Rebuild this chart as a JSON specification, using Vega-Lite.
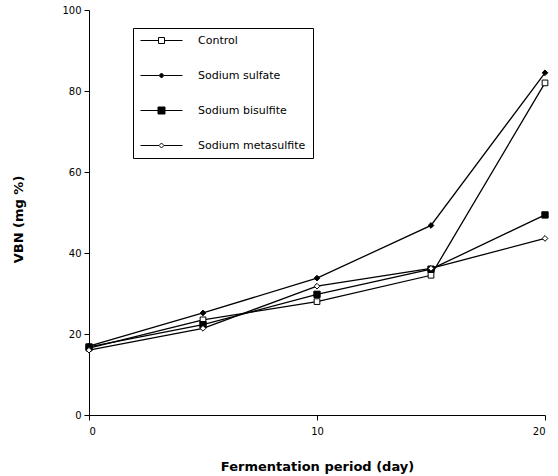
{
  "$schema": "https://vega.github.io/schema/vega-lite/v6.json",
  "width": 456,
  "height": 405,
  "autosize": "none",
  "padding": {"left": 89, "top": 10, "right": 13, "bottom": 61},
  "background": "white",
  "config": {
    "view": {"stroke": null},
    "font": "DejaVu Sans",
    "axis": {
      "grid": false,
      "domainColor": "black",
      "tickColor": "black",
      "labelColor": "black",
      "titleColor": "black",
      "labelFont": "DejaVu Sans",
      "titleFont": "DejaVu Sans",
      "labelFontSize": 10,
      "titleFontSize": 13,
      "titleFontWeight": "bold",
      "tickSize": 5,
      "domainWidth": 1,
      "tickWidth": 1
    },
    "legend": {
      "padding": 7,
      "strokeColor": "black",
      "fillColor": "white",
      "symbolSize": 100,
      "symbolStrokeWidth": 1,
      "symbolOpacity": 1,
      "labelOffset": 47,
      "rowPadding": 23,
      "labelFont": "DejaVu Sans",
      "labelFontSize": 11,
      "labelColor": "black",
      "labelLimit": 200
    }
  },
  "data": {
    "values": [
      {"series": "Control", "day": 0, "vbn": 16.5},
      {"series": "Control", "day": 5, "vbn": 23.5},
      {"series": "Control", "day": 10, "vbn": 28},
      {"series": "Control", "day": 15, "vbn": 34.5},
      {"series": "Control", "day": 20, "vbn": 82},
      {"series": "Sodium sulfate", "day": 0, "vbn": 17},
      {"series": "Sodium sulfate", "day": 5, "vbn": 25.2},
      {"series": "Sodium sulfate", "day": 10, "vbn": 33.8},
      {"series": "Sodium sulfate", "day": 15, "vbn": 46.8},
      {"series": "Sodium sulfate", "day": 20, "vbn": 84.5},
      {"series": "Sodium bisulfite", "day": 0, "vbn": 16.8},
      {"series": "Sodium bisulfite", "day": 5, "vbn": 22.3},
      {"series": "Sodium bisulfite", "day": 10, "vbn": 29.8},
      {"series": "Sodium bisulfite", "day": 15, "vbn": 36},
      {"series": "Sodium bisulfite", "day": 20, "vbn": 49.4},
      {"series": "Sodium metasulfite", "day": 0, "vbn": 16},
      {"series": "Sodium metasulfite", "day": 5, "vbn": 21.4},
      {"series": "Sodium metasulfite", "day": 10, "vbn": 31.8},
      {"series": "Sodium metasulfite", "day": 15, "vbn": 36.2},
      {"series": "Sodium metasulfite", "day": 20, "vbn": 43.6}
    ]
  },
  "encoding": {
    "x": {
      "field": "day", "type": "quantitative",
      "scale": {"domain": [0, 20], "nice": false, "zero": false},
      "axis": {"values": [0, 10, 20], "title": "Fermentation period (day)", "labelPadding": 6, "titleY": 55, "titleBaseline": "alphabetic"}
    },
    "y": {
      "field": "vbn", "type": "quantitative",
      "scale": {"domain": [0, 100], "nice": false},
      "axis": {"values": [0, 20, 40, 60, 80, 100], "title": "VBN (mg %)", "labelPadding": 3, "titleX": -67, "titleY": 209, "titleBaseline": "alphabetic"}
    }
  },
  "layer": [
    {
      "mark": {"type": "line", "color": "black", "strokeWidth": 1.3},
      "encoding": {"detail": {"field": "series", "type": "nominal"}}
    },
    {
      "mark": {"type": "point", "filled": false, "stroke": "black", "strokeWidth": 1, "opacity": 1, "size": 40},
      "encoding": {
        "shape": {
          "condition": [
            {"test": "datum.series === 'Control'", "value": "M-0.9,-0.9H0.9V0.9H-0.9Z"},
            {"test": "datum.series === 'Sodium bisulfite'", "value": "M-1,-1H1V1H-1Z"}
          ],
          "value": "M0,-0.9L0.9,0L0,0.9L-0.9,0Z"
        },
        "fill": {
          "condition": {"test": "datum.series === 'Control' || datum.series === 'Sodium metasulfite'", "value": "white"},
          "value": "black"
        }
      }
    },
    {
      "mark": {"type": "point", "filled": false, "strokeWidth": 1, "opacity": 0, "size": 40},
      "encoding": {
        "shape": {
          "field": "series", "type": "nominal",
          "scale": {
            "domain": ["Control", "Sodium sulfate", "Sodium bisulfite", "Sodium metasulfite"],
            "range": [
              "M-1,0H2.6M3.8,0H7.4M2.6,-0.6H3.8V0.6H2.6Z",
              "M-1,0H2.7M3.7,0H7.4M3.2,-0.5L3.7,0L3.2,0.5L2.7,0Z",
              "M-1,0H2.5M3.9,0H7.4M2.5,-0.7H3.9V0.7H2.5Z",
              "M-1,0H2.7M3.7,0H7.4M3.2,-0.5L3.7,0L3.2,0.5L2.7,0Z"
            ]
          },
          "legend": {"orient": "none", "legendX": 44, "legendY": 18, "title": null}
        },
        "fill": {
          "field": "series", "type": "nominal",
          "scale": {
            "domain": ["Control", "Sodium sulfate", "Sodium bisulfite", "Sodium metasulfite"],
            "range": ["white", "black", "black", "white"]
          },
          "legend": {"orient": "none", "legendX": 44, "legendY": 18, "title": null}
        },
        "stroke": {
          "field": "series", "type": "nominal",
          "scale": {
            "domain": ["Control", "Sodium sulfate", "Sodium bisulfite", "Sodium metasulfite"],
            "range": ["black", "black", "black", "black"]
          },
          "legend": {"orient": "none", "legendX": 44, "legendY": 18, "title": null}
        }
      }
    }
  ]
}
